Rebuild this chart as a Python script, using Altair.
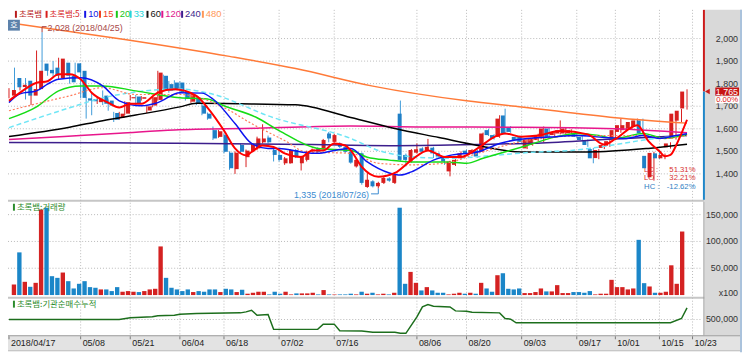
import altair as alt
import pandas as pd

# ---------------- data ----------------
OPEN = [1747,1825,1785,1813,1747,1776,1889,1861,1871,1825,
        1893,1835,1890,1857,1735,1732,1718,1747,1725,1670,
        1648,1667,1735,1743,1733,1681,1703,1728,1835,1798,
        1805,1805,1762,1720,1737,1703,1667,1594,1564,1572,
        1494,1421,1528,1474,1503,1513,1540,1561,1506,1484,
        1447,1447,1506,1447,1462,1501,1513,1513,1579,1542,
        1535,1520,1498,1433,1491,1342,1367,1345,1360,1380,
        1360,1667,1484,1455,1494,1513,1506,1516,1491,1477,
        1411,1440,1469,1503,1491,1503,1498,1594,1572,1564,
        1659,1608,1564,1564,1513,1528,1550,1564,1601,1572,
        1579,1579,1580,1579,1564,1550,1510,1470,1515,1525,
        1557,1586,1594,1601,1608,1637,1480,1385,1491,1469,
        1518,1557,1636,1690]
HIGH = [1780,1871,1820,1825,1780,1947,2028,1870,1900,1915,
        1898,1840,1893,1890,1740,1760,1745,1770,1730,1675,
        1675,1722,1750,1750,1745,1705,1745,1857,1840,1812,
        1815,1810,1770,1760,1745,1710,1672,1610,1595,1580,
        1500,1500,1535,1508,1535,1565,1620,1570,1515,1515,
        1475,1510,1510,1480,1503,1512,1518,1555,1586,1578,
        1540,1525,1502,1468,1495,1404,1372,1365,1386,1385,
        1400,1725,1490,1510,1535,1518,1555,1520,1495,1480,
        1458,1465,1500,1508,1510,1507,1583,1600,1576,1660,
        1689,1612,1568,1568,1558,1560,1578,1610,1605,1590,
        1637,1605,1598,1583,1568,1553,1515,1510,1532,1550,
        1600,1645,1622,1634,1645,1645,1485,1498,1496,1490,
        1540,1672,1688,1775]
LOW = [1735,1762,1770,1730,1705,1770,1845,1835,1830,1820,
       1825,1800,1820,1735,1645,1660,1710,1705,1680,1630,
       1640,1660,1725,1705,1725,1670,1695,1725,1770,1760,
       1770,1755,1725,1715,1705,1660,1640,1550,1560,1491,
       1418,1400,1490,1430,1495,1505,1535,1535,1455,1455,
       1440,1445,1470,1415,1455,1495,1493,1508,1540,1538,
       1515,1493,1445,1428,1352,1338,1340,1335,1355,1365,
       1355,1455,1433,1450,1490,1495,1502,1470,1472,1440,
       1389,1435,1465,1485,1488,1472,1495,1568,1552,1560,
       1575,1582,1545,1538,1510,1525,1545,1540,1560,1568,
       1575,1575,1576,1560,1545,1520,1447,1465,1510,1520,
       1552,1582,1590,1598,1604,1575,1420,1370,1465,1465,
       1512,1552,1630,1685]
CLOSE = [1772,1784,1795,1747,1776,1857,1857,1846,1835,1911,
         1835,1806,1850,1737,1725,1722,1735,1711,1703,1640,
         1667,1718,1740,1711,1740,1699,1740,1849,1776,1769,
         1776,1762,1733,1754,1711,1667,1645,1557,1589,1498,
         1425,1494,1498,1503,1528,1557,1557,1540,1484,1462,
         1469,1506,1477,1477,1498,1508,1498,1550,1557,1572,
         1520,1498,1450,1462,1360,1374,1345,1360,1382,1370,
         1396,1462,1462,1506,1509,1498,1520,1491,1477,1455,
         1455,1462,1491,1489,1506,1477,1579,1572,1557,1645,
         1579,1586,1550,1542,1553,1557,1572,1601,1564,1586,
         1594,1601,1594,1564,1550,1528,1469,1506,1528,1545,
         1594,1616,1616,1630,1637,1579,1425,1493,1469,1484,
         1535,1667,1680,1765]
VOLUME = [19700,79600,24700,15400,22800,159800,162900,35200,32100,42000,
          25900,12300,21000,25900,14800,13600,10500,10500,7400,14800,
          6200,7400,6200,5600,7400,10500,11700,90700,32100,13600,
          10500,7400,10500,5600,7400,6200,10500,10500,5600,11700,
          10500,5600,9900,2500,4300,6200,6200,1200,6200,2500,
          6200,1200,3100,3100,3100,4300,1200,9300,1200,1000,
          1200,1200,2500,1200,6200,2500,4300,1200,2500,1200,
          4300,162900,21000,43200,22800,8600,14800,8600,4300,4300,
          1200,2500,4300,2500,4300,2500,22800,12300,6200,37000,
          40700,11700,10500,12300,3700,3700,5600,12300,6800,6800,
          18500,3700,3700,5600,5600,4300,7400,1200,2500,2500,
          28400,14800,14800,10500,12300,103000,22200,16000,4300,4300,
          6200,55500,21000,118500]

# moving-average lines, read at points along each line (day index, price)
MA5_IDX = [0,2,5,7,9,11,13,15,18,20,22,24,27,30,34,36,39,41,43,44,46,48,50,53,55,57,59,61,62,64,
           67,70,73,76,79,82,85,88,90,93,96,100,105,108,110,114,116,118,119,120,121,122,123]
MA5_VAL = [1724,1760,1804,1811,1842,1842,1820,1760,1716,1694,1711,1711,1760,1775,1746,1694,1592,1513,1482,1497,
           1526,1519,1491,1475,1504,1504,1535,1526,1504,1431,1387,1404,1461,1504,1475,1475,1513,1563,1579,1565,
           1570,1590,1575,1530,1555,1616,1545,1500,1478,1484,1525,1580,1640]
MA10_IDX = [0,2,5,7,9,13,17,20,24,27,31,35,37,41,44,47,49,53,56,59,62,65,69,71,73,77,80,85,89,94,
            98,103,108,112,115,118,121,123]
MA10_VAL = [1716,1755,1768,1798,1820,1826,1790,1724,1702,1716,1760,1758,1732,1623,1535,1513,1513,1497,1491,1504,
            1513,1453,1404,1395,1409,1461,1482,1497,1535,1557,1563,1570,1561,1557,1570,1557,1570,1578]
MA15_IDX = [0,5,11,17,23,31,39,44,50,54,62,67,73,79,85,94,105,115,119,123]
MA15_VAL = [1680,1711,1746,1782,1752,1752,1694,1623,1548,1497,1491,1447,1440,1447,1491,1548,1570,1570,1557,1570]
MA20_IDX = [0,5,9,13,17,23,31,36,39,45,49,56,62,65,69,73,79,83,86,94,99,103,107,110,115,119,123]
MA20_VAL = [1645,1697,1768,1790,1790,1768,1738,1732,1702,1649,1592,1513,1504,1474,1461,1453,1453,1447,1469,1526,
            1563,1579,1570,1557,1579,1557,1575]
MA33_IDX = [0,11,17,31,36,48,62,67,74,80,88,95,102,108,116,123]
MA33_VAL = [1605,1693,1737,1776,1759,1649,1557,1504,1474,1469,1482,1496,1504,1522,1553,1570]
MA60_IDX = [0,11,17,23,31,34,42,52,62,70,78,85,93,105,116,123]
MA60_VAL = [1566,1607,1636,1661,1697,1713,1711,1706,1650,1601,1561,1526,1497,1497,1513,1531]
MA120_IDX = [0,10,20,30,45,62,75,93,110,123]
MA120_VAL = [1552,1566,1580,1595,1602,1612,1608,1607,1600,1582]
MA240_IDX = [0,30,55,70,85,95,108,123]
MA240_VAL = [1539,1536,1530,1525,1530,1536,1552,1570]
MA480_IDX = [0,21,40,52,66,83,93,110,123]
MA480_VAL = [2070,1996,1921,1867,1789,1724,1697,1649,1625]

# institutional net-buying cumulative line (day index, value)
CUM_IDX = [0,20,22,26,27,30,31,34,42,43,44,45,47,48,56,57,59,60,64,66,70,71,72,74,75,76,77,80,81,83,84,
           89,90,91,92,120,122,123]
CUM_VAL = [500000,500000,517000,527000,537000,543000,553000,560000,567000,577000,593000,543000,550000,
           400000,400000,453000,453000,387000,383000,370000,370000,360000,360000,527000,627000,650000,
           633000,627000,587000,583000,573000,567000,510000,503000,467000,467000,510000,617000]

X_LABEL_IDX = [0, 13, 22, 31, 39, 49, 59, 74, 83, 93, 103, 110, 118, 124]
X_LABELS = ["2018/04/17", "05/08", "05/21", "06/04", "06/18", "07/02", "07/16",
            "08/06", "08/20", "09/03", "09/17", "10/01", "10/15", "10/23"]
PRICE_TICKS = [2000, 1900, 1800, 1700, 1600, 1500, 1400]
PRICE_TICK_LABELS = ["2,000", "1,900", "1,800", "1,700", "1,600", "1,500", "1,400"]
VOL_TICKS = [150000, 100000, 50000]
VOL_TICK_LABELS = ["150,000", "100,000", "50,000"]
VOL_UNIT = "x100"
CUM_TICKS = [500000]
CUM_TICK_LABELS = ["500,000"]
LAST_PRICE = 1765
LAST_PRICE_LABEL = "1,765"
LAST_CHANGE = "0.00%"
HIGH_IDX, HIGH_PRICE, HIGH_NOTE = 6, 2028, "2,028 (2018/04/25)"
LOW_IDX, LOW_PRICE, LOW_NOTE = 67, 1335, "1,335 (2018/07/26)"
STAT_NAMES = ["LC :", "LO :", "HC :"]
STAT_VALUES = ["51.31%", "32.21%", "-12.62%"]
LEGEND_LABELS = ["초록뱀", "초록뱀:5", "10", "15", "20", "33", "60", "120", "240", "480"]
VOL_TITLE = "초록뱀:거래량"
CUM_TITLE = "초록뱀:기관순매수누적"

# ---------------- style / layout ----------------
RED = "#d81e1e"
BLUE = "#1f7fc6"
BLUE_WICK = "#3f9bd9"
NUM_FONT = "Liberation Sans Narrow, Arial Narrow, Liberation Sans, sans-serif"
KR_FONT = "Noto Sans CJK KR"
LEGEND_COLORS = ["#b81c1c", "#d81c1c", "#1414e6", "#f0401e", "#18c818",
                 "#28d6da", "#111111", "#e0168c", "#3c1e8c", "#ff9858"]
LEGEND_X = [7, 38, 77, 92, 109, 123, 140, 155, 175, 196]

XS = alt.Scale(domain=[0, 124], range=[1, 692], nice=False, zero=False)
PS = alt.Scale(domain=[1300, 2100], range=[188.6, 6.2], nice=False, zero=False)
VS = alt.Scale(domain=[0, 150000], range=[288.3, 207.0], nice=False, zero=False)
CS = alt.Scale(domain=[300000, 700000], range=[333, 293], nice=False, zero=False)

ONE = pd.DataFrame({"k": [0]})


def xq(field="i:Q"):
    return alt.X(field, scale=XS, axis=None)


def prect(x1, x2, y1, y2, fill):
    return alt.Chart(ONE).mark_rect(fill=fill).encode(
        x=alt.value(x1), x2=alt.value(x2), y=alt.value(y1), y2=alt.value(y2))


def ptext(x, y, text, color, size=9, align="left", font=NUM_FONT):
    return alt.Chart(ONE).mark_text(text=text, color=color, fontSize=size, align=align,
                                    baseline="middle", font=font).encode(
        x=alt.value(x), y=alt.value(y))


up = "datum.c >= datum.o"
cdf = pd.DataFrame({"i": list(range(len(OPEN))), "o": OPEN, "h": HIGH,
                    "l": LOW, "c": CLOSE, "v": VOLUME})

layers = []

# backgrounds
layers.append(prect(704, 742, 0, 329, "#d9d9d9"))
layers.append(prect(0, 704, 192, 194, "#c6c6c6"))
layers.append(prect(0, 704, 290, 292, "#c6c6c6"))

# grids
grid_style = dict(color="#b9b9b9", strokeDash=[1, 2], strokeWidth=1)
layers.append(alt.Chart(pd.DataFrame({"p": PRICE_TICKS})).mark_rule(**grid_style).encode(
    y=alt.Y("p:Q", scale=PS, axis=None), x=alt.value(0), x2=alt.value(702)))
layers.append(alt.Chart(pd.DataFrame({"v": VOL_TICKS})).mark_rule(**grid_style).encode(
    y=alt.Y("v:Q", scale=VS, axis=None), x=alt.value(0), x2=alt.value(702)))
layers.append(alt.Chart(pd.DataFrame({"v": CUM_TICKS})).mark_rule(**grid_style).encode(
    y=alt.Y("v:Q", scale=CS, axis=None), x=alt.value(0), x2=alt.value(702)))
layers.append(alt.Chart(pd.DataFrame({"i": X_LABEL_IDX[1:]})).mark_rule(**grid_style).encode(
    x=xq(), y=alt.value(0), y2=alt.value(329)))

# LC / LO / HC statistics (drawn under the candles)
stat_colors = ["#d83030", "#d83030", "#2f80c4"]
for k in range(3):
    yy = 162 + 8.3 * k
    layers.append(ptext(643, yy, STAT_NAMES[k], stat_colors[k], size=7.8))
    layers.append(ptext(695, yy, STAT_VALUES[k], stat_colors[k], size=7.8, align="right"))

# candles
layers.append(alt.Chart(cdf).mark_rule(strokeWidth=1).encode(
    x=xq(), y=alt.Y("l:Q", scale=PS, axis=None), y2="h:Q",
    color=alt.condition(up, alt.value(RED), alt.value(BLUE_WICK))))
layers.append(alt.Chart(cdf).mark_bar(size=4).encode(
    x=xq(), y=alt.Y("o:Q", scale=PS, axis=None), y2="c:Q",
    color=alt.condition(up, alt.value(RED), alt.value(BLUE))))


def ma_line(idx, vals, color, width, dash=None):
    d = pd.DataFrame({"i": idx, "v": vals})
    kw = dict(color=color, strokeWidth=width, interpolate="monotone")
    if dash:
        kw["strokeDash"] = dash
    return alt.Chart(d).mark_line(**kw).encode(x=xq(), y=alt.Y("v:Q", scale=PS, axis=None))


layers.append(ma_line(MA480_IDX, MA480_VAL, "#ff7a38", 1.5))
layers.append(ma_line(MA240_IDX, MA240_VAL, "#3c1e8c", 1.5))
layers.append(ma_line(MA120_IDX, MA120_VAL, "#e8168c", 1.5))
layers.append(ma_line(MA60_IDX, MA60_VAL, "#000000", 1.5))
layers.append(ma_line(MA33_IDX, MA33_VAL, "#6fe6f6", 1.5, [5, 3]))
layers.append(ma_line(MA20_IDX, MA20_VAL, "#14dc14", 1.5))
layers.append(ma_line(MA15_IDX, MA15_VAL, "#ff7a5a", 1.2, [2, 2]))
layers.append(ma_line(MA10_IDX, MA10_VAL, "#0c14f0", 1.5))
layers.append(ma_line(MA5_IDX, MA5_VAL, "#ff0000", 2))

# volume bars
layers.append(alt.Chart(cdf).mark_bar(size=4.4).encode(
    x=xq(), y=alt.Y("v:Q", scale=VS, axis=None), y2=alt.datum(0),
    color=alt.condition(up, alt.value("#d42222"), alt.value("#1b86c8"))))

# cumulative line
layers.append(alt.Chart(pd.DataFrame({"i": CUM_IDX, "v": CUM_VAL})).mark_line(
    color="#1c6e1c", strokeWidth=1.5).encode(x=xq(), y=alt.Y("v:Q", scale=CS, axis=None)))

# high / low annotations
hn = pd.DataFrame({"i": [HIGH_IDX], "p": [HIGH_PRICE]})
layers.append(alt.Chart(hn).mark_rule(color="#a83c3c").encode(
    x=xq(), y=alt.Y("p:Q", scale=PS, axis=None), y2=alt.value(17)))
layers.append(alt.Chart(hn).mark_rule(color="#a83c3c").encode(
    x=xq(), x2=alt.value(39), y=alt.value(17)))
layers.append(ptext(40, 18.5, HIGH_NOTE, "#a84848"))
ln = pd.DataFrame({"i": [LOW_IDX], "p": [LOW_PRICE]})
layers.append(alt.Chart(ln).mark_rule(color="#3b8bd0").encode(
    x=xq(), y=alt.Y("p:Q", scale=PS, axis=None), y2=alt.value(186)))
layers.append(alt.Chart(ln).mark_rule(color="#3b8bd0").encode(
    x=xq(), x2=alt.value(367), y=alt.value(186)))
layers.append(ptext(365, 187, LOW_NOTE, "#3b8bd0", align="right"))

# x-axis band
layers.append(prect(0, 742, 329, 344, "#e3e3e3"))
layers.append(prect(0, 742, 329, 330, "#9d9d9d"))
layers.append(prect(0, 742, 344, 346, "#ffffff"))
layers.append(prect(0, 742, 344, 345, "#b4b4b4"))
xl = pd.DataFrame({"i": X_LABEL_IDX, "t": X_LABELS})
layers.append(alt.Chart(xl).mark_rule(color="#7a7a7a").encode(
    x=xq(), y=alt.value(330), y2=alt.value(333)))
layers.append(alt.Chart(xl).mark_text(align="left", baseline="middle", dx=2, fontSize=9,
                                      font=NUM_FONT, color="#222222").encode(
    x=xq(), y=alt.value(337), text="t:N"))

# right-hand value labels
lab_style = dict(align="right", baseline="middle", fontSize=9, font=NUM_FONT, color="#333333")
layers.append(alt.Chart(pd.DataFrame({"p": PRICE_TICKS, "t": PRICE_TICK_LABELS})).mark_text(
    **lab_style).encode(x=alt.value(738), y=alt.Y("p:Q", scale=PS, axis=None), text="t:N"))
layers.append(alt.Chart(pd.DataFrame({"v": VOL_TICKS, "t": VOL_TICK_LABELS})).mark_text(
    **lab_style).encode(x=alt.value(738), y=alt.Y("v:Q", scale=VS, axis=None), text="t:N"))
layers.append(ptext(738, 286, VOL_UNIT, "#333333", align="right"))
layers.append(alt.Chart(pd.DataFrame({"v": CUM_TICKS, "t": CUM_TICK_LABELS})).mark_text(
    **lab_style).encode(x=alt.value(738), y=alt.Y("v:Q", scale=CS, axis=None), text="t:N"))

# current price marker
cp = pd.DataFrame({"p": [LAST_PRICE], "t": [LAST_PRICE_LABEL],
                   "lo": [LAST_PRICE - 18], "hi": [LAST_PRICE + 18]})
layers.append(alt.Chart(cp).mark_rule(color="#cc1a1a", strokeWidth=2).encode(
    x=alt.value(703.5), y=alt.Y("p:Q", scale=PS, axis=None), y2=alt.value(0)))
layers.append(alt.Chart(cp).mark_rule(color="#1f86c8", strokeWidth=2).encode(
    x=alt.value(703.5), y=alt.Y("p:Q", scale=PS, axis=None), y2=alt.value(192)))
layers.append(prect(703, 704, 194, 329, "#9a9a9a"))
layers.append(alt.Chart(cp).mark_point(shape="triangle-left", filled=True, size=30,
                                       color="#cc1a1a", opacity=1).encode(
    x=alt.value(707), y=alt.Y("p:Q", scale=PS, axis=None)))
layers.append(prect(715, 739, 87.5, 94.5, "#ffffff"))
layers.append(ptext(738, 90.8, LAST_CHANGE, "#e02020", size=7.8, align="right"))
layers.append(alt.Chart(cp).mark_rect(fill="#c81414").encode(
    x=alt.value(715), x2=alt.value(739),
    y=alt.Y("lo:Q", scale=PS, axis=None), y2="hi:Q"))
layers.append(alt.Chart(cp).mark_text(align="right", baseline="middle", fontSize=9,
                                      font=NUM_FONT, color="#ffffff").encode(
    x=alt.value(738), y=alt.Y("p:Q", scale=PS, axis=None), text="t:N"))
layers.append(prect(740, 742, 0, 346, "#aac2dc"))

# top legend
for lab, col, x0 in zip(LEGEND_LABELS, LEGEND_COLORS, LEGEND_X):
    layers.append(prect(x0, x0 + 2, 1, 8, col))
    f = KR_FONT if not lab.isdigit() else NUM_FONT
    layers.append(ptext(x0 + 4, 4.5, lab, col, size=8.5 if f == KR_FONT else 9.5, font=f))

# "호" button
layers.append(prect(0, 12, 10, 21, "#5d82ab"))
layers.append(ptext(6, 15.5, "호", "#ffffff", size=8.5, align="center", font=KR_FONT))

# sub-panel titles
layers.append(prect(5, 7, 196, 203, "#2c8c2c"))
layers.append(ptext(9, 199.5, VOL_TITLE, "#2c8c2c", size=8.5, font=KR_FONT))
layers.append(prect(5, 7, 294, 301, "#2c8c2c"))
layers.append(ptext(9, 297.5, CUM_TITLE, "#2c8c2c", size=8.5, font=KR_FONT))

chart = alt.layer(*layers).resolve_scale(x="independent", y="independent").properties(
    width=742, height=346, padding=0,
    autosize=alt.AutoSizeParams(type="none"), background="white"
).configure_view(strokeWidth=0)

chart.save("out.html", embed_options={"renderer": "svg", "actions": False})
